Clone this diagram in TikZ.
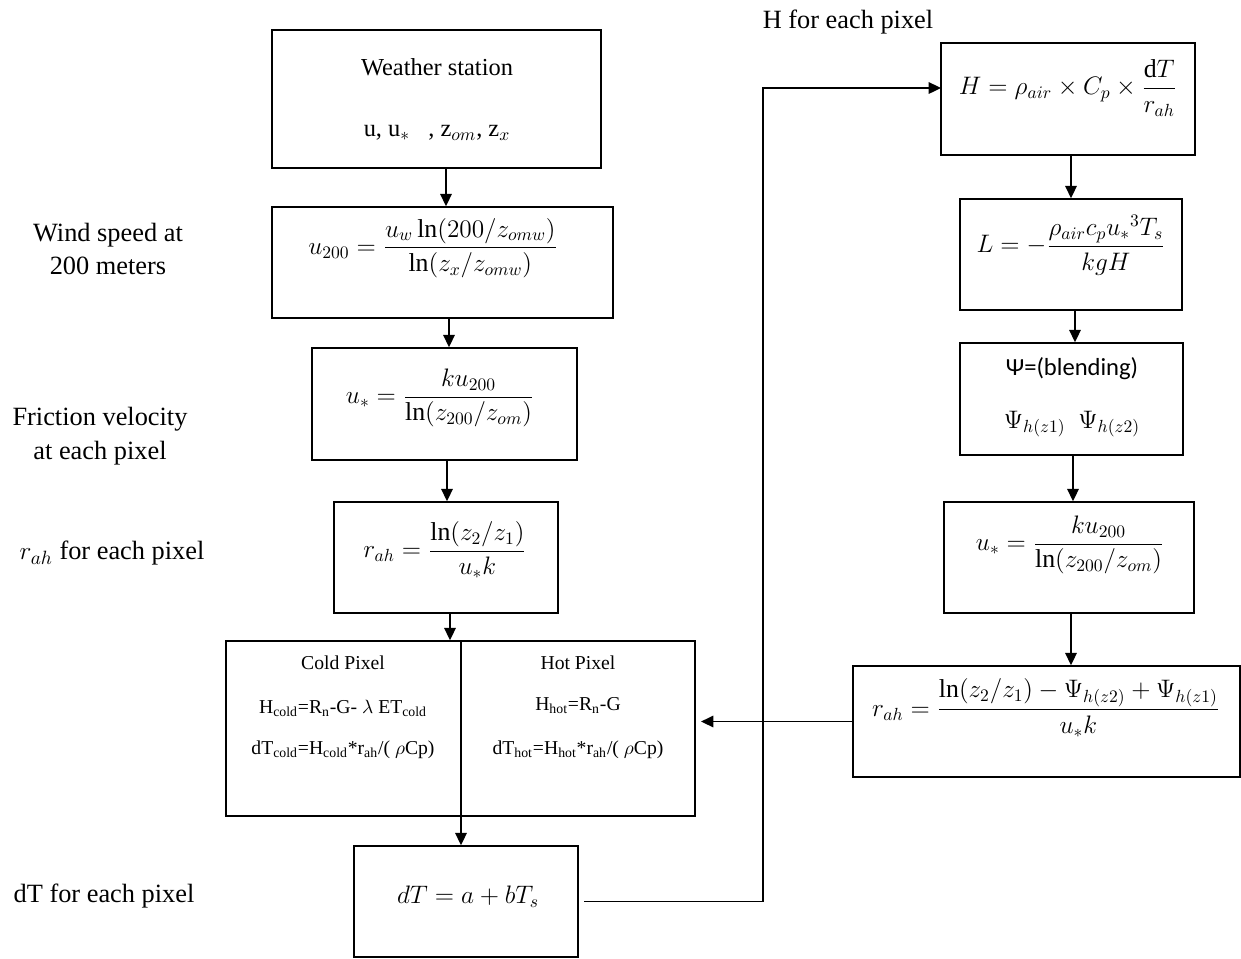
\documentclass[tikz,border=0pt]{standalone}
\usepackage{fontspec}
\usepackage{amsmath}
\setmainfont{Liberation Serif}
\newfontfamily\calib{Carlito}
\usetikzlibrary{arrows.meta,calc}
\begin{document}
\begin{tikzpicture}[x=0.02cm,y=-0.02cm,
  box/.style={draw,line width=0.9pt,inner sep=0pt},
  arr/.style={line width=1.1pt,-{Triangle[length=7pt,width=6.5pt]}},
  lbl/.style={font=\fontsize{15}{19}\selectfont,align=center,inner sep=0pt},
  txt/.style={font=\fontsize{13.9}{16}\selectfont,inner sep=0pt},
  sml/.style={font=\fontsize{11.2}{13}\selectfont,inner sep=0pt},
  fm/.style={font=\fontsize{14.7}{17}\selectfont,inner sep=0pt}]
\useasboundingbox (0,0) rectangle (1241,958);
% left column boxes
\node[box,minimum width=6.58cm,minimum height=2.76cm] (ws) at (436.5,99) {};
\node[box,minimum width=6.82cm,minimum height=2.22cm] (u200) at (442.5,262.5) {};
\node[box,minimum width=5.30cm,minimum height=2.24cm] (us) at (444.5,404) {};
\node[box,minimum width=4.48cm,minimum height=2.22cm] (rah) at (446,557.5) {};
\node[box,minimum width=4.70cm,minimum height=3.50cm] (cold) at (343.5,728.5) {};
\node[box,minimum width=4.68cm,minimum height=3.50cm] (hot) at (578,728.5) {};
\node[box,minimum width=4.48cm,minimum height=2.22cm] (dT) at (466,901.5) {};
% right column boxes
\node[box,minimum width=5.08cm,minimum height=2.24cm] (H) at (1068,99) {};
\node[box,minimum width=4.44cm,minimum height=2.22cm] (L) at (1071,254.5) {};
\node[box,minimum width=4.46cm,minimum height=2.24cm] (psi) at (1071.5,399) {};
\node[box,minimum width=5.00cm,minimum height=2.22cm] (us2) at (1069,557.5) {};
\node[box,minimum width=7.74cm,minimum height=2.22cm] (rah2) at (1046.5,721.5) {};
% texts in boxes
\node[txt] (wst1) at (437,67) {Weather station};
\node[txt] (wst2) at (437,133) {u, u$_*$\ \ \ , z$_{om}$, z$_x$};
\node[fm] (u200t) at (433,248) {$u_{200}=\dfrac{u_w\ln(200/z_{omw})}{\ln(z_x/z_{omw})}$};
\node[fm] (ust) at (440,398) {$u_*=\dfrac{ku_{200}}{\ln(z_{200}/z_{om})}$};
\node[fm] (raht) at (445,550) {$r_{ah}=\dfrac{\ln(z_2/z_1)}{u_*k}$};
\node[sml] (coldt1) at (343,663) {Cold Pixel};
\node[sml] (coldt2) at (343,708) {H\textsubscript{cold}=R\textsubscript{n}-G- $\lambda$ ET\textsubscript{cold}};
\node[sml] (coldt3) at (343,750) {dT\textsubscript{cold}=H\textsubscript{cold}*r\textsubscript{ah}/( $\rho$Cp)};
\node[sml] (hott1) at (578,663) {Hot Pixel};
\node[sml] (hott2) at (578,706) {H\textsubscript{hot}=R\textsubscript{n}-G};
\node[sml] (hott3) at (578,750) {dT\textsubscript{hot}=H\textsubscript{hot}*r\textsubscript{ah}/( $\rho$Cp)};
\node[fm] (dTt) at (468,897) {$dT=a+bT_s$};
\node[fm] (Ht) at (1068,88) {$H=\rho_{air}\times C_p\times\dfrac{\mathrm{d}T}{r_{ah}}$};
\node[fm] (Lt) at (1071,245) {$L=-\dfrac{\rho_{air}c_p{u_*}^{3}T_s}{kgH}$};
\node[txt,font=\calib\fontsize{14}{16}\selectfont] (psit1) at (1072,369) {Ψ=(blending)};
\node[fm] (psit2) at (1072,424) {$\Psi_{h(z1)}\ \ \Psi_{h(z2)}$};
\node[fm] (us2t) at (1070,545) {$u_*=\dfrac{ku_{200}}{\ln(z_{200}/z_{om})}$};
\node[fm] (rah2t) at (1046,708) {$r_{ah}=\dfrac{\ln(z_2/z_1)-\Psi_{h(z2)}+\Psi_{h(z1)}}{u_*k}$};
% left labels
\node[lbl] (l1) at (108,249) {Wind speed at\\200 meters};
\node[lbl] (l2) at (100,436) {Friction velocity\\at each pixel};
\node[lbl] (l3) at (112,553) {$r_{ah}$ for each pixel};
\node[lbl] (l4) at (104,896) {dT for each pixel};
\node[lbl] (l5) at (848,22) {H for each pixel};
% arrow columns
\coordinate (a1) at (446,0);
\coordinate (a2) at (449,0);
\coordinate (a3) at (447,0);
\coordinate (a4) at (450,0);
\coordinate (a5) at (461,0);
\coordinate (b1) at (1071,0);
\coordinate (b2) at (1075,0);
\coordinate (b3) at (1073,0);
\coordinate (b4) at (1071,0);
\draw[arr] (a1 |- ws.south) -- (a1 |- u200.north);
\draw[arr] (a2 |- u200.south) -- (a2 |- us.north);
\draw[arr] (a3 |- us.south) -- (a3 |- rah.north);
\draw[arr] (a4 |- rah.south) -- (a4 |- cold.north);
\draw[arr] (a5 |- cold.south) -- (a5 |- dT.north);
\draw[arr] (b1 |- H.south) -- (b1 |- L.north);
\draw[arr] (b2 |- L.south) -- (b2 |- psi.north);
\draw[arr] (b3 |- psi.south) -- (b3 |- us2.north);
\draw[arr] (b4 |- us2.south) -- (b4 |- rah2.north);
% loop
\coordinate (k1) at (763,500);
\coordinate (hin) at (941,88);
\draw[arr] ([xshift=3pt]dT.east) -| (k1) |- (hin);
\draw[arr,shorten >=3pt] (rah2.west) -- (rah2.west -| hot.east);
\end{tikzpicture}
\end{document}
